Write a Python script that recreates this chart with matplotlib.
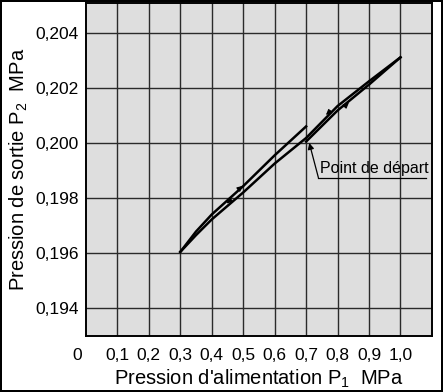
import numpy as np
import matplotlib.pyplot as plt

plt.rcParams['font.family'] = ['Liberation Sans', 'DejaVu Sans']

# hysteresis curve: first rise from start point, fall, second rise
p1_up1 = [0.70, 0.80, 0.90, 1.00]
p2_up1 = [0.20005, 0.20118, 0.20212, 0.20311]
p1_down = [1.00, 0.90, 0.80, 0.70, 0.60, 0.50, 0.40, 0.35, 0.30]
p2_down = [0.20311, 0.20224, 0.20134, 0.20018, 0.19925, 0.19820, 0.19722, 0.19665, 0.19604]
p1_up2 = [0.30, 0.35, 0.40, 0.50, 0.60, 0.70]
p2_up2 = [0.19604, 0.19678, 0.19740, 0.19843, 0.19955, 0.20060]

# arrow markers along the curves: (x, y, direction)
arrows = [(0.821, 0.20131, 1), (0.778, 0.20117, -1),
          (0.483, 0.19829, 1), (0.462, 0.19795, -1)]

xticks = [0.1, 0.2, 0.3, 0.4, 0.5, 0.6, 0.7, 0.8, 0.9, 1.0]
xticklabels = ["0,1", "0,2", "0,3", "0,4", "0,5", "0,6", "0,7", "0,8", "0,9", "1,0"]
yticks = [0.194, 0.196, 0.198, 0.200, 0.202, 0.204]
yticklabels = ["0,194", "0,196", "0,198", "0,200", "0,202", "0,204"]

fig = plt.figure(figsize=(4.43, 3.92), dpi=100)
fig.patch.set_edgecolor("black")
fig.patch.set_linewidth(1.5)
ax = fig.add_axes([0.194, 0.144, 0.781, 0.848])
ax.set_facecolor("#dedede")

ax.set_xlim(0, 1.1)
ax.set_ylim(0.193, 0.20508)
ax.set_xticks(xticks)
ax.set_xticklabels(xticklabels, fontsize=12.5)
ax.set_yticks(yticks)
ax.set_yticklabels(yticklabels, fontsize=12.5)
ax.tick_params(length=0, pad=5)
ax.tick_params(axis="x", pad=9)
ax.grid(True, color="#2a2a2a", linewidth=1.0)
ax.set_axisbelow(True)
for s in ax.spines.values():
    s.set_linewidth(1.4)

ax.annotate("0", xy=(0, 0), xycoords=("data", "axes fraction"),
            xytext=(-6, -9), textcoords="offset points",
            ha="center", va="top", fontsize=12.5)

lw = 1.8
ax.plot(p1_up1, p2_up1, color="black", lw=lw)
ax.plot(p1_down, p2_down, color="black", lw=lw)
ax.plot(p1_up2, p2_up2, color="black", lw=lw)

slope = (0.20311 - 0.19604) / 0.7
for x, y, d in arrows:
    dx = 0.015 * d
    ax.annotate("", xy=(x + dx, y + dx * slope), xytext=(x, y),
                arrowprops=dict(arrowstyle="-|>", color="black", lw=0.8,
                                mutation_scale=8, shrinkA=0, shrinkB=0))

# "Point de départ" callout
ax.annotate("", xy=(0.71, 0.20000), xytext=(0.739, 0.19874),
            arrowprops=dict(arrowstyle="-|>", color="black", lw=0.9,
                            mutation_scale=9, shrinkA=0, shrinkB=0))
ax.plot([0.739, 1.082], [0.19874, 0.19874], color="black", lw=0.9)
ax.text(0.744, 0.19878, "Point de départ", fontsize=11.5, ha="left", va="bottom")

ax.set_xlabel("Pression d'alimentation P$_\\mathregular{1}$  MPa", fontsize=14.5, labelpad=3)
ax.set_ylabel("Pression de sortie P$_\\mathregular{2}$  MPa", fontsize=14.5, labelpad=4)

fig.savefig("out.png", dpi=100, edgecolor=fig.get_edgecolor())
